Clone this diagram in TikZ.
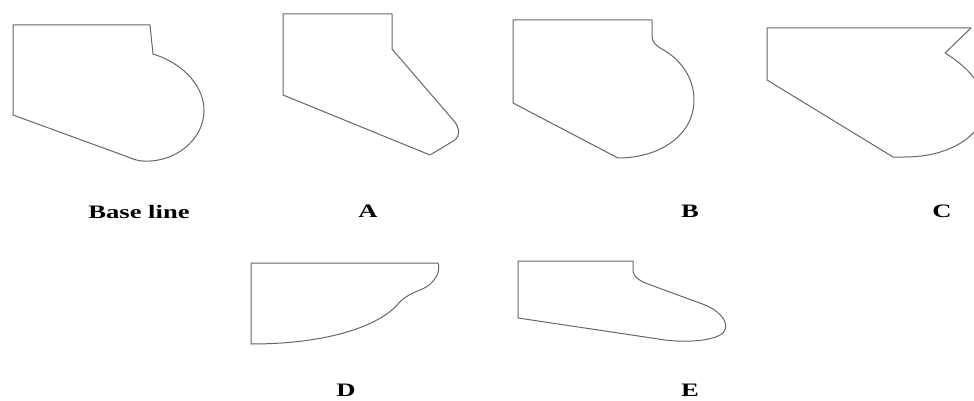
\documentclass[tikz,border=0pt]{standalone}
\usepackage{fontspec}
\setmainfont{Liberation Serif}
\usepackage{tikz}

\begin{document}
\begin{tikzpicture}[
  x=1pt, y=-1pt,
  profile/.style={draw=black!60, line width=1pt, line join=round},
  lbl/.style={inner sep=0pt, font=\fontsize{19}{20}\selectfont\bfseries}
]
  \useasboundingbox (0,0) rectangle (974,401);

  % Profiles
  \begin{scope}
    \clip (0,0) rectangle (974,401);
    % base line
    \draw[profile] (13,25) -- (150,25) -- (153,54)
      .. controls (185,64) and (205,88) .. (204,112)
      .. controls (203,140) and (175,163) .. (143,161)
      .. controls (138,161) and (133,159) .. (128,157) -- (13,115) -- cycle;
    % A
    \draw[profile] (283,14) -- (392,14) -- (392,49) -- (454,121)
      .. controls (460,128) and (460,136) .. (455,140) -- (430,155)
      -- (283,95) -- cycle;
    % B
    \draw[profile] (513,20) -- (652,20) -- (652,36)
      .. controls (652,42) and (656,46) .. (662,49)
      .. controls (685,62) and (694,82) .. (694,100)
      .. controls (694,135) and (660,158) .. (618,158) -- (513,103) -- cycle;
    % C
    \draw[profile] (767,28) -- (971,28) -- (945,53)
      .. controls (965,65) and (985,85) .. (985,105)
      .. controls (985,135) and (950,157) .. (905,157) -- (893,157)
      -- (767,80) -- cycle;
    % D
    \draw[profile] (251,263) -- (438,263)
      .. controls (441,270) and (436,284) .. (420,290)
      .. controls (410,294) and (403,298) .. (398,304)
      .. controls (380,325) and (330,344) .. (251,344) -- cycle;
    % E
    \draw[profile] (518,261) -- (633,261) -- (633,272)
      .. controls (635,278) and (640,281) .. (648,284) -- (705,305)
      .. controls (725,313) and (733,330) .. (718,336)
      .. controls (705,342) and (680,342) .. (665,340) -- (518,318) -- cycle;
  \end{scope}

  % Labels
  \node[lbl] (base) at (139,212) {\scalebox{1.4}[1]{Base line}};
  \node[lbl] (la)   at (368,211) {\scalebox{1.4}[1]{A}};
  \node[lbl] (lb)   at (690,211) {\scalebox{1.4}[1]{B}};
  \node[lbl] (lc)   at (942,211) {\scalebox{1.4}[1]{C}};
  \node[lbl] (ld)   at (346,390) {\scalebox{1.4}[1]{D}};
  \node[lbl] (le)   at (690,390) {\scalebox{1.4}[1]{E}};
\end{tikzpicture}
\end{document}
